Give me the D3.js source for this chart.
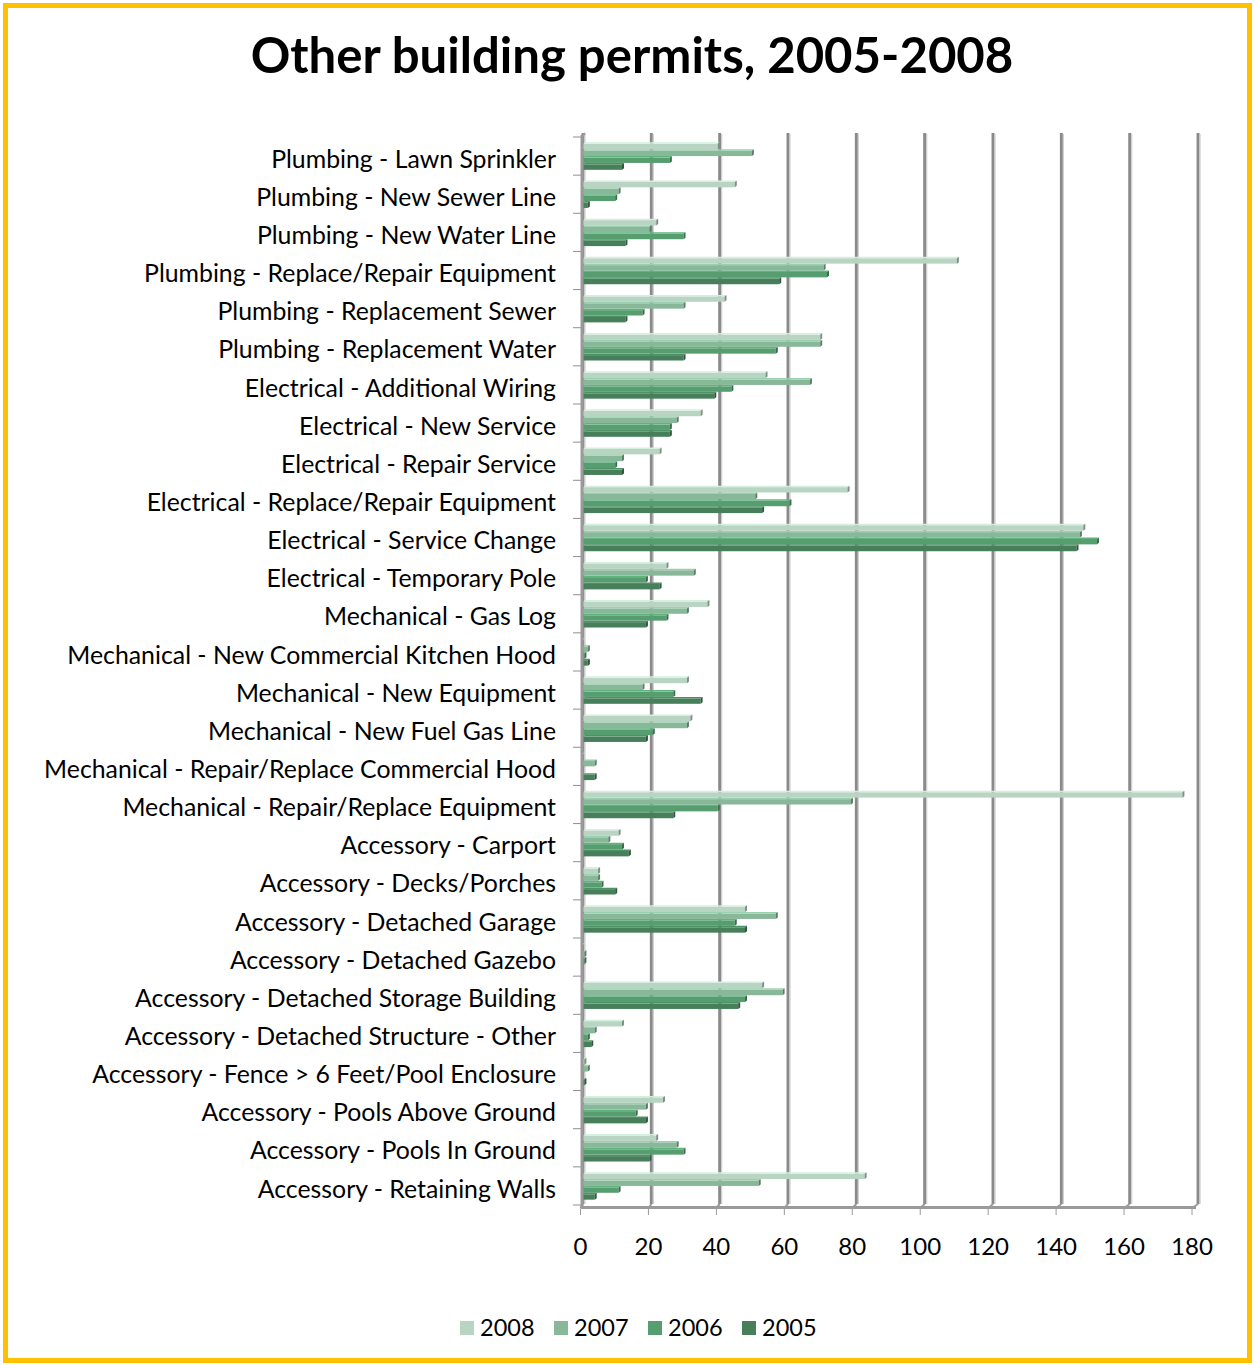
<!DOCTYPE html>
<html>
<head>
<meta charset="utf-8">
<script src="https://cdn.jsdelivr.net/npm/d3@7"></script>
<style>
  body { margin: 0; background: #fff; }
  text { font-family: Lato, "Noto Sans", sans-serif; fill: #000; }
</style>
</head>
<body>
<div id="chart"></div>
<script>
// categories, top to bottom
const categories = [
  'Plumbing - Lawn Sprinkler',
  'Plumbing - New Sewer Line',
  'Plumbing - New Water Line',
  'Plumbing - Replace/Repair Equipment',
  'Plumbing - Replacement Sewer',
  'Plumbing - Replacement Water',
  'Electrical - Additional Wiring',
  'Electrical - New Service',
  'Electrical - Repair Service',
  'Electrical - Replace/Repair Equipment',
  'Electrical - Service Change',
  'Electrical - Temporary Pole',
  'Mechanical - Gas Log',
  'Mechanical - New Commercial Kitchen Hood',
  'Mechanical - New Equipment',
  'Mechanical - New Fuel Gas Line',
  'Mechanical - Repair/Replace Commercial Hood',
  'Mechanical - Repair/Replace Equipment',
  'Accessory - Carport',
  'Accessory - Decks/Porches',
  'Accessory - Detached Garage',
  'Accessory - Detached Gazebo',
  'Accessory - Detached Storage Building',
  'Accessory - Detached Structure - Other',
  'Accessory - Fence > 6 Feet/Pool Enclosure',
  'Accessory - Pools Above Ground',
  'Accessory - Pools In Ground',
  'Accessory - Retaining Walls'
];

const values2008 = [40, 45, 22, 110, 42, 70, 54, 35, 23, 78, 147, 25, 37, 0, 31, 32, 0, 176, 11, 5, 48, 0, 53, 12, 1, 24, 22, 83];
const values2007 = [50, 11, 20, 71, 30, 70, 67, 28, 12, 51, 146, 33, 31, 2, 18, 31, 4, 79, 8, 5, 57, 1, 59, 4, 2, 19, 28, 52];
const values2006 = [26, 10, 30, 72, 18, 57, 44, 26, 10, 61, 151, 19, 25, 1, 27, 21, 0, 40, 12, 6, 45, 1, 48, 2, 0, 16, 30, 11];
const values2005 = [12, 2, 13, 58, 13, 30, 39, 26, 12, 53, 145, 23, 19, 2, 35, 19, 4, 27, 14, 10, 48, 0, 46, 3, 1, 19, 20, 4];

const years = ['2008', '2007', '2006', '2005'];
const seriesValues = [values2008, values2007, values2006, values2005];
const xTickValues = [0, 20, 40, 60, 80, 100, 120, 140, 160, 180];

const colors = ['#BAD4C4', '#88B899', '#569E6F', '#477F5A'];

const W = 1255, H = 1365;

const svg = d3.select('#chart').append('svg')
  .attr('width', W)
  .attr('height', H);

// outer gold frame
svg.append('rect')
  .attr('x', 5.5).attr('y', 5.5)
  .attr('width', W - 11).attr('height', H - 10)
  .attr('fill', '#fff')
  .attr('stroke', '#FFC000')
  .attr('stroke-width', 5);

// title
const title = svg.append('text')
  .attr('x', 632).attr('y', 73)
  .attr('text-anchor', 'middle')
  .attr('font-weight', 700)
  .attr('font-size', 46)
  .text('Other building permits, 2005-2008');
fitWidth(title, 763);

// scales: back wall (bars, gridlines) and floor (tick labels)
const plotTop = 133, plotBottom = 1204;
const x = d3.scaleLinear().domain([0, 180]).range([583, 583 + 180 * 3.417]);
const xFloor = d3.scaleLinear().domain([0, 180]).range([580.5, 1192]);

const y0 = d3.scaleBand()
  .domain(categories)
  .range([137, 1205])
  .paddingInner(0.28)
  .paddingOuter(0.14);

const y1 = d3.scaleBand()
  .domain(years)
  .range([0, y0.bandwidth()]);

// gridlines on the back wall
const grid = svg.append('g');
xTickValues.forEach(v => {
  const gx = x(v);
  grid.append('line')
    .attr('x1', gx).attr('x2', gx)
    .attr('y1', plotTop).attr('y2', plotBottom)
    .attr('stroke', '#8a8a8a').attr('stroke-width', 3);
  grid.append('line')
    .attr('x1', gx + 2).attr('x2', gx + 2)
    .attr('y1', plotTop + 1).attr('y2', plotBottom)
    .attr('stroke', '#cfcfcf').attr('stroke-width', 1.2);
  // slant down to the floor edge
  grid.append('line')
    .attr('x1', gx).attr('y1', plotBottom)
    .attr('x2', xFloor(v)).attr('y2', plotBottom + 4)
    .attr('stroke', '#9a9a9a').attr('stroke-width', 2);
});

// floor
svg.append('line')
  .attr('x1', xFloor(0)).attr('x2', xFloor(180) + 4)
  .attr('y1', plotBottom + 3.5).attr('y2', plotBottom + 3.5)
  .attr('stroke', '#9a9a9a').attr('stroke-width', 3);

// floor ticks
svg.append('g').selectAll('line')
  .data(xTickValues)
  .join('line')
  .attr('x1', d => xFloor(d)).attr('x2', d => xFloor(d))
  .attr('y1', plotBottom + 5).attr('y2', plotBottom + 11)
  .attr('stroke', '#9a9a9a').attr('stroke-width', 1);

// category ticks on the left wall
svg.append('g').selectAll('line')
  .data(d3.range(categories.length + 1))
  .join('line')
  .attr('x1', 573).attr('x2', 582)
  .attr('y1', i => 137 + i * y0.step())
  .attr('y2', i => 137 + i * y0.step())
  .attr('stroke', '#8f8f8f').attr('stroke-width', 1);

// bars
const bars = [];
categories.forEach((c, ci) => {
  years.forEach((yr, si) => {
    bars.push({cat: c, year: yr, si: si, value: seriesValues[si][ci]});
  });
});

const barG = svg.append('g');
const d = 2;   // depth offset of the fake 3d
bars.forEach(b => {
  const top = y0(b.cat) + y1(b.year);
  const h = y1.bandwidth();
  const x0 = x(0), xv = x(b.value);
  const col = d3.color(colors[b.si]);
  const g = barG.append('g');
  // front face
  g.append('rect')
    .attr('x', x0)
    .attr('y', top + 1.5)
    .attr('width', Math.max(0, xv - d - x0))
    .attr('height', h - 1.5)
    .attr('fill', colors[b.si]);
  // top face
  g.append('polygon')
    .attr('points', [[x0, top + 1.5], [x0 + d, top], [xv, top], [xv - d, top + 1.5]].join(' '))
    .attr('fill', col.brighter(0.35));
  // end face
  g.append('polygon')
    .attr('points', [[xv - d, top + 1.5], [xv, top], [xv, top + h - 1.5], [xv - d, top + h]].join(' '))
    .attr('fill', col.darker(1.1));
});

// left wall axis line
svg.append('line')
  .attr('x1', 582).attr('x2', 582)
  .attr('y1', plotTop + 2).attr('y2', plotBottom + 4)
  .attr('stroke', '#9a9a9a').attr('stroke-width', 3);
svg.append('line')
  .attr('x1', 582).attr('y1', plotTop + 4)
  .attr('x2', 585).attr('y2', plotTop)
  .attr('stroke', '#9a9a9a').attr('stroke-width', 2);

// category labels
const labels = svg.append('g').selectAll('text')
  .data(categories)
  .join('text')
  .attr('x', 556)
  .attr('y', c => y0(c) + y0.bandwidth() / 2 + 3)
  .attr('dy', '0.35em')
  .attr('text-anchor', 'end')
  .attr('font-size', 24)
  .text(c => c);
const longest = labels.filter(c => c === 'Mechanical - Repair/Replace Commercial Hood');
const k = 512 / longest.node().getComputedTextLength();
labels.attr('font-size', 24 * k);

// x tick labels
svg.append('g').selectAll('text')
  .data(xTickValues)
  .join('text')
  .attr('x', v => xFloor(v))
  .attr('y', 1247)
  .attr('dy', '0.35em')
  .attr('text-anchor', 'middle')
  .attr('font-size', 24)
  .text(v => v);

// legend
const legend = svg.append('g').selectAll('g')
  .data(years)
  .join('g')
  .attr('transform', (yr, i) => `translate(${460 + i * 94},1321)`);
legend.append('rect')
  .attr('width', 14).attr('height', 14)
  .attr('fill', (yr, i) => colors[i]);
legend.append('text')
  .attr('x', 20).attr('y', 7)
  .attr('dy', '0.36em')
  .attr('font-size', 23.5)
  .text(yr => yr);

function fitWidth(sel, target) {
  const w = sel.node().getComputedTextLength();
  const fs = +sel.attr('font-size');
  sel.attr('font-size', fs * target / w);
}
</script>
</body>
</html>
